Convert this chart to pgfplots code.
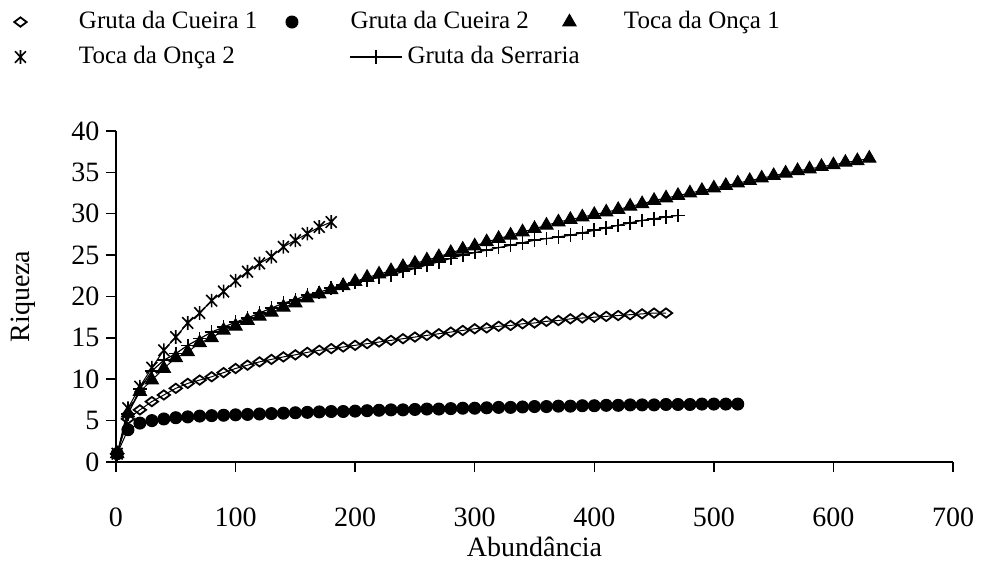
\documentclass[border=0pt]{standalone}
\usepackage{fontspec}
\setmainfont{Liberation Serif}
\usepackage{pgfplots}
\pgfplotsset{compat=1.18}
\pgfdeclareplotmark{xast}{%
  \pgfpathmoveto{\pgfqpoint{-0.8\pgfplotmarksize}{-0.85\pgfplotmarksize}}%
  \pgfpathlineto{\pgfqpoint{0.8\pgfplotmarksize}{0.85\pgfplotmarksize}}%
  \pgfpathmoveto{\pgfqpoint{-0.8\pgfplotmarksize}{0.85\pgfplotmarksize}}%
  \pgfpathlineto{\pgfqpoint{0.8\pgfplotmarksize}{-0.85\pgfplotmarksize}}%
  \pgfpathmoveto{\pgfqpoint{0pt}{-\pgfplotmarksize}}%
  \pgfpathlineto{\pgfqpoint{0pt}{\pgfplotmarksize}}%
  \pgfusepathqstroke}
\pgfplotsset{
  mklegend/.style={legend image code/.code={\path (0pt,0pt) (8pt,0pt); \draw[##1] plot coordinates {(4pt,0pt)};}},
  lnlegend/.style={legend image code/.code={\path (0pt,0pt) (8pt,0pt); \draw[##1, overlay, mark repeat=2, mark phase=2] plot coordinates {(33pt,0pt) (46pt,0pt) (59pt,0pt)};}},
}
\begin{document}
\begin{tikzpicture}
\begin{axis}[
  name=ax,
  scale only axis, width=418.5pt, height=165.5pt,
  xmin=0, xmax=700, ymin=0, ymax=40,
  xtick={0,100,...,700}, ytick={0,5,...,40},
  axis x line*=bottom, axis y line*=left,
  axis line style={black, line width=0.75pt, -},
  tick align=outside, major tick length=4.8pt,
  tick style={black, line width=0.75pt},
  /pgf/number format/assume math mode=true,
  ticklabel style={font=\fontsize{14}{16}\selectfont},
  xticklabel style={yshift=-14.5pt},
  xlabel={Abundância}, ylabel={Riqueza},
  label style={font=\fontsize{14}{16}\selectfont},
  xlabel style={at={(axis description cs:0.5,-0.287)}, anchor=base},
  ylabel style={at={(axis description cs:-0.1028,0.5)}, anchor=base},
  clip=false,
  legend columns=3,
  legend style={
    at={(-0.1243,1.3625)}, anchor=north west, draw=none, fill=none,
    inner sep=0pt, outer sep=0pt,
    font=\fontsize{12.5}{14}\selectfont,
    nodes={inner sep=0pt, text height=8.5pt, text depth=2.5pt},
    cells={anchor=west},
    row sep=6.5pt,
    /tikz/column 1/.style={column sep=25pt},
    /tikz/column 2/.style={column sep=13pt},
    /tikz/column 3/.style={column sep=25pt},
    /tikz/column 4/.style={column sep=16pt},
    /tikz/column 5/.style={column sep=23pt},
  },
]
% Gruta da Cueira 1
\addplot[black, line width=0.5pt, mark=diamond, mark size=3.1pt,
  mark options={rotate=90, fill=white, line width=0.9pt, solid}, mklegend]
coordinates {(1,1)(10,5.2)(20,6.3)(30,7.3)(40,8.1)(50,8.9)(60,9.5)(70,9.9)(80,10.3)(90,10.8)(100,11.3)(110,11.7)(120,12.1)(130,12.4)(140,12.7)(150,12.95)(160,13.25)(170,13.5)(180,13.7)(190,13.9)(200,14.1)(210,14.3)(220,14.5)(230,14.7)(240,14.9)(250,15.1)(260,15.3)(270,15.5)(280,15.7)(290,15.9)(300,16.1)(310,16.2)(320,16.4)(330,16.5)(340,16.7)(350,16.8)(360,17.0)(370,17.1)(380,17.3)(390,17.4)(400,17.5)(410,17.6)(420,17.7)(430,17.8)(440,17.9)(450,18.0)(460,18.0)};
\addlegendentry{Gruta da Cueira 1}
% Gruta da Cueira 2
\addplot[black, line width=0.5pt, mark=*, mark size=3pt,
  mark options={fill=black, solid}, mklegend]
coordinates {(1,1)(10,3.9)(20,4.7)(30,5.0)(40,5.2)(50,5.35)(60,5.45)(70,5.55)(80,5.6)(90,5.65)(100,5.7)(110,5.75)(120,5.8)(130,5.85)(140,5.9)(150,5.95)(160,6.0)(170,6.05)(180,6.1)(190,6.1)(200,6.15)(210,6.2)(220,6.25)(230,6.3)(240,6.3)(250,6.35)(260,6.4)(270,6.4)(280,6.45)(290,6.5)(300,6.5)(310,6.55)(320,6.6)(330,6.6)(340,6.65)(350,6.7)(360,6.7)(370,6.75)(380,6.75)(390,6.8)(400,6.8)(410,6.85)(420,6.85)(430,6.9)(440,6.9)(450,6.9)(460,6.95)(470,6.95)(480,6.95)(490,7.0)(500,7.0)(510,7.0)(520,7.0)};
\addlegendentry{Gruta da Cueira 2}
% Toca da Onca 1
\addplot[black, line width=0.5pt, mark=triangle*, mark size=3.8pt,
  mark options={fill=black, solid}, mklegend]
coordinates {(1,1)(10,5.9)(20,8.5)(30,9.9)(40,11.3)(50,12.6)(60,13.3)(70,14.4)(80,15.0)(90,15.9)(100,16.4)(110,17.1)(120,17.6)(130,18.1)(140,18.7)(150,19.2)(160,19.8)(170,20.3)(180,20.8)(190,21.3)(200,21.8)(210,22.3)(220,22.7)(230,23.1)(240,23.6)(250,24.0)(260,24.4)(270,24.8)(280,25.3)(290,25.7)(300,26.1)(310,26.6)(320,27.0)(330,27.4)(340,27.8)(350,28.2)(360,28.6)(370,29.0)(380,29.3)(390,29.6)(400,29.9)(410,30.2)(420,30.5)(430,30.9)(440,31.2)(450,31.6)(460,31.9)(470,32.2)(480,32.5)(490,32.8)(500,33.1)(510,33.4)(520,33.7)(530,34.0)(540,34.3)(550,34.6)(560,34.9)(570,35.2)(580,35.4)(590,35.7)(600,35.9)(610,36.2)(620,36.4)(630,36.7)};
\addlegendentry{Toca da Onça 1}
% Toca da Onca 2
\addplot[black, line width=0.5pt, mark=xast, mark size=3.4pt,
  mark options={line width=0.8pt, solid}, mklegend]
coordinates {(1,1)(10,6.5)(20,9.1)(30,11.4)(40,13.5)(50,15.1)(60,16.8)(70,18.0)(80,19.5)(90,20.6)(100,21.9)(110,23.0)(120,24.0)(130,24.8)(140,26.0)(150,26.8)(160,27.6)(170,28.4)(180,29.0)};
\addlegendentry{Toca da Onça 2}
% Gruta da Serraria
\addplot[black, line width=0.6pt, mark=+, mark size=3.4pt,
  mark options={line width=0.8pt, solid}, lnlegend]
coordinates {(1,1)(10,5.8)(20,8.8)(30,11.0)(40,12.3)(50,13.1)(60,14.1)(70,14.9)(80,15.7)(90,16.3)(100,16.9)(110,17.4)(120,18.0)(130,18.6)(140,19.2)(150,19.6)(160,20.2)(170,20.5)(180,21.0)(190,21.4)(200,21.7)(210,22.0)(220,22.3)(230,22.6)(240,23.0)(250,23.4)(260,23.8)(270,24.2)(280,24.6)(290,25.0)(300,25.3)(310,25.6)(320,25.9)(330,26.2)(340,26.5)(350,26.8)(360,27.0)(370,27.2)(380,27.4)(390,27.7)(400,28.0)(410,28.3)(420,28.6)(430,28.9)(440,29.2)(450,29.4)(460,29.6)(470,29.8)};
\addlegendentry{\rlap{\hspace*{28pt}Gruta da Serraria}}
\end{axis}
\pgfresetboundingbox
\path[use as bounding box] ([shift={(-58pt,-49.5pt)}]ax.south west) rectangle ([shift={(14pt,65.5pt)}]ax.north east);
\end{tikzpicture}
\end{document}
